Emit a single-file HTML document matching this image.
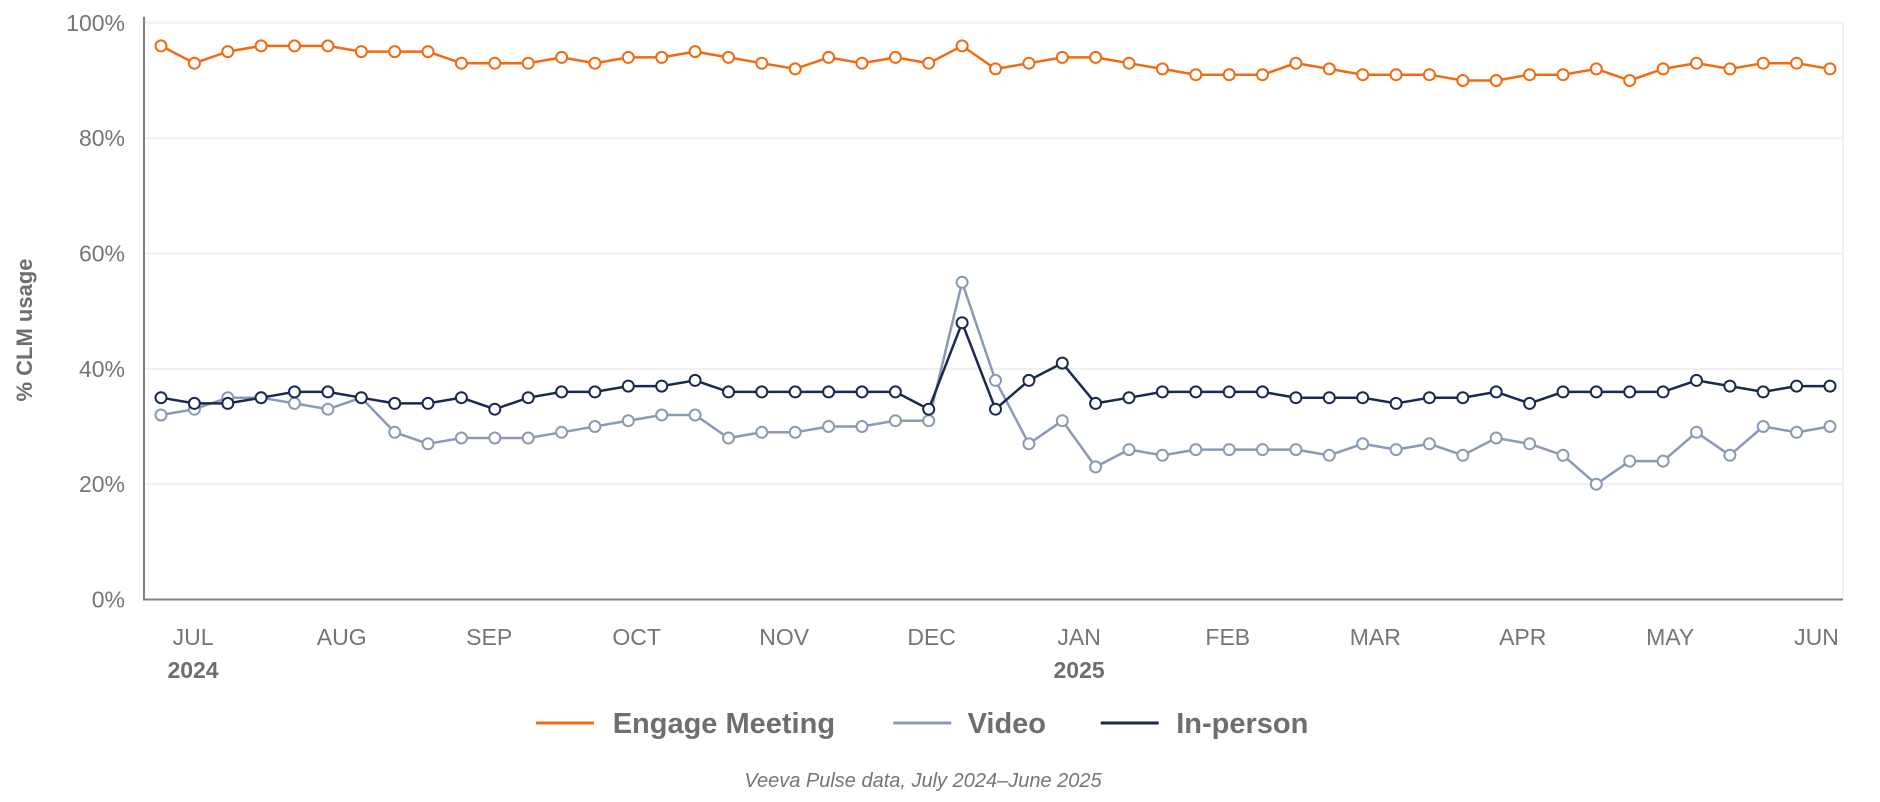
<!DOCTYPE html>
<html><head><meta charset="utf-8"><style>
html,body{margin:0;padding:0;background:#fff}
svg{display:block;font-family:"Liberation Sans",sans-serif}
</style></head><body>
<svg id="c" width="1880" height="802" viewBox="0 0 1880 802" xmlns="http://www.w3.org/2000/svg"></svg>
<script>
const E=[96,93,95,96,96,96,95,95,95,93,93,93,94,93,94,94,95,94,93,92,94,93,94,93,96,92,93,94,94,93,92,91,91,91,93,92,91,91,91,90,90,91,91,92,90,92,93,92,93,93,92];
const V=[32,33,35,35,34,33,35,29,27,28,28,28,29,30,31,32,32,28,29,29,30,30,31,31,55,38,27,31,23,26,25,26,26,26,26,25,27,26,27,25,28,27,25,20,24,24,29,25,30,29,30];
const P=[35,34,34,35,36,36,35,34,34,35,33,35,36,36,37,37,38,36,36,36,36,36,36,33,48,33,38,41,34,35,36,36,36,36,35,35,35,34,35,35,36,34,36,36,36,36,38,37,36,37,37];
const X0=144,X1=1843,Y100=22.8,Y0=599.5;
const px=i=>161+i*(1830-161)/50, py=v=>Y0-(Y0-Y100)*v/100;
let s='';
for(let k=1;k<=5;k++){const y=py(k*20);s+=`<line x1="${X0}" x2="${X1}" y1="${y}" y2="${y}" stroke="#f0f0f0" stroke-width="2"/>`;}
s+=`<line x1="${X1}" x2="${X1}" y1="${Y100}" y2="${Y0}" stroke="#f0f0f0" stroke-width="2"/>`;
s+=`<line x1="${X0}" x2="${X0}" y1="${Y100-6}" y2="${Y0+1}" stroke="#808080" stroke-width="2"/>`;
s+=`<line x1="${X0}" x2="${X1}" y1="${Y0}" y2="${Y0}" stroke="#808080" stroke-width="2"/>`;
for(let k=0;k<=5;k++){s+=`<text x="125" y="${py(k*20)+8}" text-anchor="end" font-size="23" fill="#757575">${k*20}%</text>`;}
s+=`<text transform="translate(32,330) rotate(-90)" text-anchor="middle" font-size="22" font-weight="bold" fill="#6e6e6e">% CLM usage</text>`;
const M=[["JUL",161],["AUG",285],["SEP",408],["OCT",531],["NOV",654],["DEC",777],["JAN",900],["FEB",1024],["MAR",1147],["APR",1270],["MAY",1393],["JUN",1515]];
M.forEach(([t,x])=>{s+=`<text x="${x*1.199}" y="645" text-anchor="middle" font-size="23" fill="#757575">${t}</text>`;});
s+=`<text x="${161*1.199}" y="678" text-anchor="middle" font-size="23" font-weight="bold" fill="#6e6e6e">2024</text>`;
s+=`<text x="${900*1.199}" y="678" text-anchor="middle" font-size="23" font-weight="bold" fill="#6e6e6e">2025</text>`;
function ser(d,c){let p=d.map((v,i)=>`${px(i).toFixed(1)},${py(v).toFixed(1)}`).join(' ');
 let r=`<polyline points="${p}" fill="none" stroke="${c}" stroke-width="2.5"/>`;
 d.forEach((v,i)=>{r+=`<circle cx="${px(i).toFixed(1)}" cy="${py(v).toFixed(1)}" r="5.5" fill="#fff" stroke="${c}" stroke-width="2"/>`;});return r;}
s+=ser(V,"#8a9ab5")+ser(P,"#1a2a4f")+ser(E,"#f26b0f");
const L=[["Engage Meeting","#f26b0f",447,511],["Video","#8a9ab5",745,807],["In-person","#1a2a4f",918,981]];
L.forEach(([t,c,a,b])=>{s+=`<line x1="${a*1.199}" x2="${a*1.199+58}" y1="723" y2="723" stroke="${c}" stroke-width="3"/>`;
 s+=`<text x="${b*1.199}" y="733" font-size="29" font-weight="bold" fill="#6e6e6e">${t}</text>`;});
s+=`<text x="923" y="787" text-anchor="middle" font-size="20" font-style="italic" fill="#757575">Veeva Pulse data, July 2024–June 2025</text>`;
document.getElementById('c').innerHTML=s;
</script>
</body></html>
